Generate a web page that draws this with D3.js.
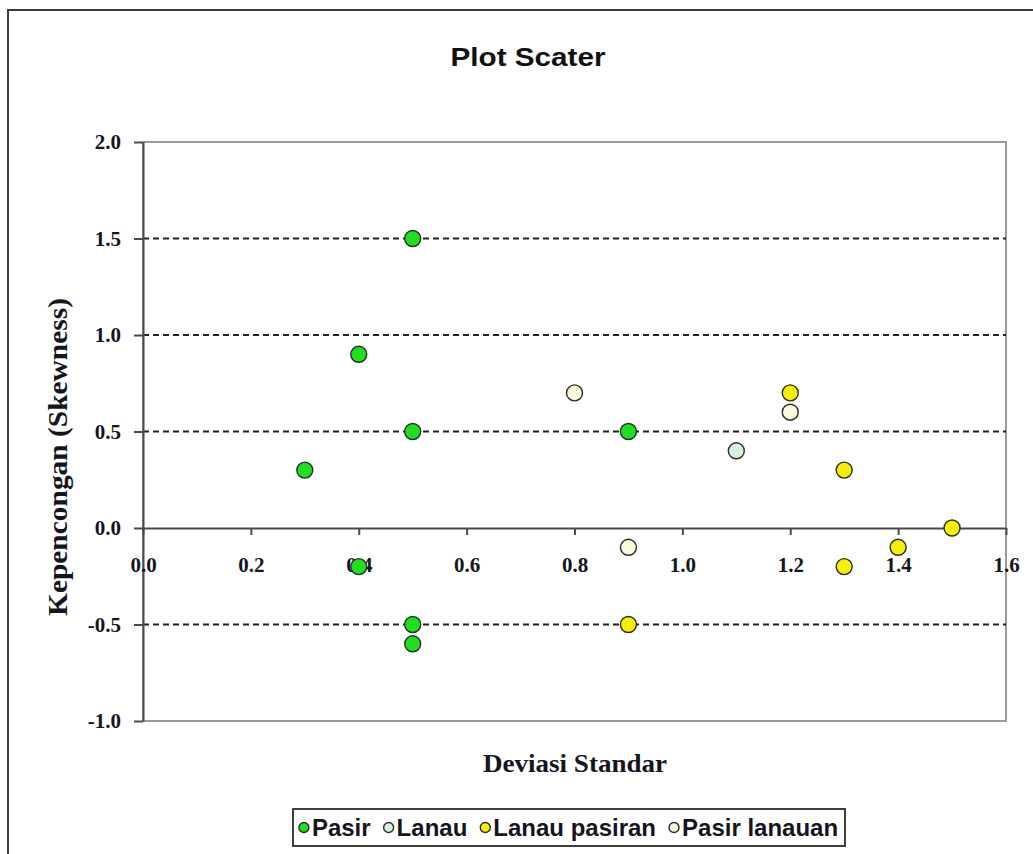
<!DOCTYPE html>
<html>
<head>
<meta charset="utf-8">
<script src="https://cdn.jsdelivr.net/npm/d3@7"></script>
<style>
  html, body { margin: 0; padding: 0; background: #fff; }
  svg { display: block; }
</style>
</head>
<body>
<svg id="chart"></svg>
<script>
// series, in legend order
const seriesNames = ["Pasir", "Lanau", "Lanau pasiran", "Pasir lanauan"];
const seriesColors = ["#1fe01f", "#d5f0dc", "#f7ef00", "#fbfadc"];

const pasirX = [0.3, 0.4, 0.4, 0.5, 0.5, 0.5, 0.5, 0.9];
const pasirY = [0.3, 0.9, -0.2, 1.5, 0.5, -0.5, -0.6, 0.5];
const lanauX = [1.1];
const lanauY = [0.4];
const lanauPasiranX = [0.9, 1.2, 1.3, 1.3, 1.4, 1.5];
const lanauPasiranY = [-0.5, 0.7, 0.3, -0.2, -0.1, 0.0];
const pasirLanauanX = [0.8, 0.9, 1.2];
const pasirLanauanY = [0.7, -0.1, 0.6];

const xTicks = [0, 0.2, 0.4, 0.6, 0.8, 1.0, 1.2, 1.4, 1.6];
const yTicks = [-1.0, -0.5, 0.0, 0.5, 1.0, 1.5, 2.0];
const gridValues = [-0.5, 0.5, 1.0, 1.5];

const titleText = "Plot Scater";
const xTitle = "Deviasi Standar";
const yTitle = "Kepencongan (Skewness)";

const series = [
  { name: seriesNames[0], color: seriesColors[0], xs: pasirX, ys: pasirY },
  { name: seriesNames[1], color: seriesColors[1], xs: lanauX, ys: lanauY },
  { name: seriesNames[2], color: seriesColors[2], xs: lanauPasiranX, ys: lanauPasiranY },
  { name: seriesNames[3], color: seriesColors[3], xs: pasirLanauanX, ys: pasirLanauanY }
];

const width = 1033;
const height = 854;
const plot = { left: 143, right: 1006, top: 142, bottom: 721 };

const svg = d3.select("#chart")
  .attr("width", width)
  .attr("height", height);

svg.append("rect")
  .attr("width", width)
  .attr("height", height)
  .attr("fill", "#fff");

// outer chart border (right/bottom fall outside the picture)
svg.append("rect")
  .attr("x", 8)
  .attr("y", 10)
  .attr("width", 1100)
  .attr("height", 900)
  .attr("fill", "none")
  .attr("stroke", "#3a3a3a")
  .attr("stroke-width", 2);

const x = d3.scaleLinear().domain([0, 1.6]).range([plot.left, plot.right]);
const y = d3.scaleLinear().domain([-1, 2]).range([plot.bottom, plot.top]);

// plot area box
svg.append("rect")
  .attr("x", plot.left)
  .attr("y", plot.top)
  .attr("width", plot.right - plot.left)
  .attr("height", plot.bottom - plot.top)
  .attr("fill", "none")
  .attr("stroke", "#9a9a9a")
  .attr("stroke-width", 2);

// dashed gridlines
svg.append("g")
  .selectAll("line")
  .data(gridValues)
  .join("line")
  .attr("x1", plot.left)
  .attr("x2", plot.right)
  .attr("y1", d => y(d))
  .attr("y2", d => y(d))
  .attr("stroke", "#222")
  .attr("stroke-width", 2)
  .attr("stroke-dasharray", "6,4");

const fmt = d => d.toFixed(1);

// y axis
const yAxis = svg.append("g")
  .attr("transform", `translate(${plot.left},0)`)
  .call(d3.axisLeft(y).tickValues(yTicks).tickFormat(fmt)
    .tickSize(9).tickSizeOuter(0).tickPadding(13));

// x axis sits on the zero line
const xAxis = svg.append("g")
  .attr("transform", `translate(0,${y(0)})`)
  .call(d3.axisBottom(x).tickValues(xTicks).tickFormat(fmt)
    .tickSize(7).tickSizeOuter(0).tickPadding(22));

[yAxis, xAxis].forEach(a => {
  a.select(".domain").attr("stroke", "#4a4a4a").attr("stroke-width", 2);
  a.selectAll(".tick line").attr("stroke", "#4a4a4a").attr("stroke-width", 2);
  a.selectAll(".tick text")
    .attr("fill", "#151520")
    .style("font-family", "'Liberation Serif', 'Times New Roman', serif")
    .style("font-size", "21px")
    .style("font-weight", "bold");
});

// title
svg.append("text")
  .attr("x", 528)
  .attr("y", 66)
  .attr("text-anchor", "middle")
  .attr("textLength", 155)
  .attr("lengthAdjust", "spacingAndGlyphs")
  .style("font-family", "'Liberation Sans', Arial, sans-serif")
  .style("font-size", "25px")
  .style("font-weight", "bold")
  .attr("fill", "#111")
  .text(titleText);

// x axis title
svg.append("text")
  .attr("x", 575)
  .attr("y", 772)
  .attr("text-anchor", "middle")
  .attr("textLength", 184)
  .attr("lengthAdjust", "spacingAndGlyphs")
  .style("font-family", "'Liberation Serif', 'Times New Roman', serif")
  .style("font-size", "26px")
  .style("font-weight", "bold")
  .attr("fill", "#151520")
  .text(xTitle);

// y axis title
svg.append("text")
  .attr("transform", "translate(67,457) rotate(-90)")
  .attr("text-anchor", "middle")
  .attr("textLength", 318)
  .attr("lengthAdjust", "spacingAndGlyphs")
  .style("font-family", "'Liberation Serif', 'Times New Roman', serif")
  .style("font-size", "28px")
  .style("font-weight", "bold")
  .attr("fill", "#151520")
  .text(yTitle);

// points
series.forEach(s => {
  svg.append("g")
    .selectAll("circle")
    .data(s.xs.map((v, i) => [v, s.ys[i]]))
    .join("circle")
    .attr("cx", d => x(d[0]))
    .attr("cy", d => y(d[1]))
    .attr("r", 8)
    .attr("fill", s.color)
    .attr("stroke", "#2b2b2b")
    .attr("stroke-width", 1.4);
});

// legend
const legendBox = { x: 293, y: 809, w: 552, h: 37 };
svg.append("rect")
  .attr("x", legendBox.x)
  .attr("y", legendBox.y)
  .attr("width", legendBox.w)
  .attr("height", legendBox.h)
  .attr("fill", "#fff")
  .attr("stroke", "#2a2a2a")
  .attr("stroke-width", 1.8);

const legend = svg.append("g");
let cursor = 0;
series.forEach((s, i) => {
  const item = legend.append("g").attr("transform", `translate(${cursor},0)`);
  item.append("circle")
    .attr("cx", 0)
    .attr("cy", 0)
    .attr("r", 5)
    .attr("fill", s.color)
    .attr("stroke", "#2b2b2b")
    .attr("stroke-width", 1.4);
  const t = item.append("text")
    .attr("x", 8)
    .attr("y", 8.5)
    .style("font-family", "'Liberation Sans', Arial, sans-serif")
    .style("font-size", "24px")
    .style("font-weight", "bold")
    .attr("fill", "#151520")
    .text(s.name);
  const w = t.node().getComputedTextLength();
  cursor += 8 + w + (i < series.length - 1 ? 18 : 0);
});
const legendLeft = legendBox.x + (legendBox.w - cursor) / 2 + 2;
legend.attr("transform", `translate(${legendLeft},${legendBox.y + legendBox.h / 2})`);
</script>
</body>
</html>
